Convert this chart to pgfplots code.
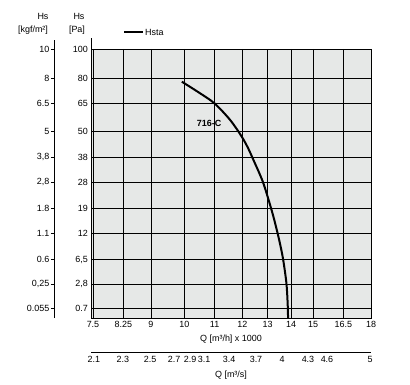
\documentclass[border=0pt]{standalone}
\usepackage{fontspec}
\setmainfont{Liberation Sans}
\usepackage{pgfplots}
\usepackage{pgfplotstable}
\pgfplotsset{compat=1.18}
\definecolor{bg}{RGB}{230,232,231}
% static pressure Hs [Pa] vs flow Q [m3/h x 1000]
\pgfplotstableread{
Q H
9.92 78.2
10.44 71.9
10.99 65.3
11.55 56.1
11.98 47.6
12.22 42.2
12.43 36.9
12.80 28.2
13.12 19.55
13.31 14.7
13.48 10.5
13.64 6.74
13.79 2.93
13.85 0.78
13.86 0.235
}\curvedata
% the vertical scale is a square-root scale: positions are sqrt(Hs [Pa])
\pgfplotsset{
  sqrty/.style={
    ymin=0.4848, ymax=10,
    ytick={0.8367,1.6733,2.5495,3.4641,4.3589,5.2915,6.1644,7.0711,8.0623,8.9443,10},
  },
  every axis/.append style={font=\fontsize{9}{10}\selectfont},
}
\begin{document}
\fontsize{9}{10}\selectfont
\begin{tikzpicture}
% main axis: tick labels and title
\begin{axis}[
  sqrty,
  scale only axis, width=280bp, height=269bp,
  at={(0,0)}, anchor=south west,
  xmode=log, xmin=7.453, xmax=18,
  xtick={7.5,8.25,9,10,11,12,13,14,15,16.5,18},
  xticklabels={7.5,8.25,9,10,11,12,13,14,15,16.5,18},
  yticklabels={0.7,{2,8},{6,5},12,19,28,38,50,65,80,100},
  xminorticks=false, yminorticks=false,
  major tick length=0.1pt,
  axis line style={black, line width=0.8pt},
  xlabel={Q [m³/h] x 1000},
  xlabel style={inner sep=1bp, yshift=-3bp},
]
\end{axis}
% plot area background and grid (grid lines at the tick positions above)
\fill[bg] (0,0) rectangle (280bp,269bp);
\foreach \gx in {1.996,32.26,59.90,93.35,123.62,151.25,176.67,200.20,222.11,252.38}
  \draw[black, line width=0.8pt] (\gx bp,0) -- (\gx bp,269bp);
\foreach \gx in {9.95,33.60,58.37,84.23,109.52,135.89,160.57,186.20,214.22,239.16}
  \draw[black, line width=0.9pt] (0bp,\gx bp) -- (280bp,\gx bp);
% overlay axis: frame and curve
\begin{axis}[
  sqrty,
  scale only axis, width=280bp, height=269bp,
  at={(0,0)}, anchor=south west,
  xmode=log, xmin=7.453, xmax=18,
  xtick=\empty, ytick=\empty,
  axis line style={black, line width=0.8pt},
  clip=true,
]
\addplot[black, line width=2bp, smooth] table[x=Q, y expr={sqrt(\thisrow{H})}] {\curvedata};
\node[font=\fontsize{9}{10}\selectfont\bfseries] at (axis cs:10.81,7.35) {716-C};
\end{axis}
% kgf/m2 axis
\begin{axis}[
  sqrty,
  scale only axis, width=10bp, height=269bp,
  at={(-37bp,0)}, anchor=south west,
  xmin=0, xmax=1,
  hide x axis, axis y line*=left,
  yticklabels={0.055,{0,25},0.6,1.1,1.8,{2,8},{3,8},5,6.5,8,10},
  tick align=outside, major tick length=3bp,
  yminorticks=false,
  y axis line style={black, line width=0.8pt},
  every tick/.style={black, line width=0.8pt},
  yticklabel style={inner sep=1.5bp},
]
\end{axis}
% m3/s axis
\begin{axis}[
  scale only axis, width=280bp, height=1bp,
  at={(0,-34bp)}, anchor=south west,
  xmode=log, xmin=7.453, xmax=18, ymin=0, ymax=1,
  hide y axis, axis x line*=bottom,
  xtick={7.52,8.24,8.98,9.68,10.18,10.64,11.51,12.53,13.60,14.76,15.67,17.95},
  xticklabels={2.1,2.3,2.5,2.7,2.9,3.1,3.4,3.7,4,4.3,4.6,5},
  xminorticks=false,
  major tick length=0.1pt,
  x axis line style={black, line width=0.8pt},
  xticklabel style={yshift=-1bp},
  xlabel={Q [m³/s]},
  xlabel style={inner sep=1bp, yshift=-4bp},
]
\end{axis}
% axis line extensions
\draw[black, line width=0.8pt] (0,269bp) -- (0,280bp);
\draw[black, line width=0.8pt] (-37bp,269bp) -- (-37bp,278bp);
% headers
\node at (-48bp,302bp) {Hs};
\node at (-58bp,288bp) {[kgf/m²]};
\node at (-12bp,302bp) {Hs};
\node at (-14bp,288bp) {[Pa]};
% legend
\draw[black, line width=2bp] (33bp,285.7bp) -- (52bp,285.7bp);
\node[anchor=west, inner sep=1bp] at (53bp,286bp) {Hsta};
% picture frame (invisible)
\path (-91bp,-67bp) rectangle (319bp,318bp);
\end{tikzpicture}
\end{document}
